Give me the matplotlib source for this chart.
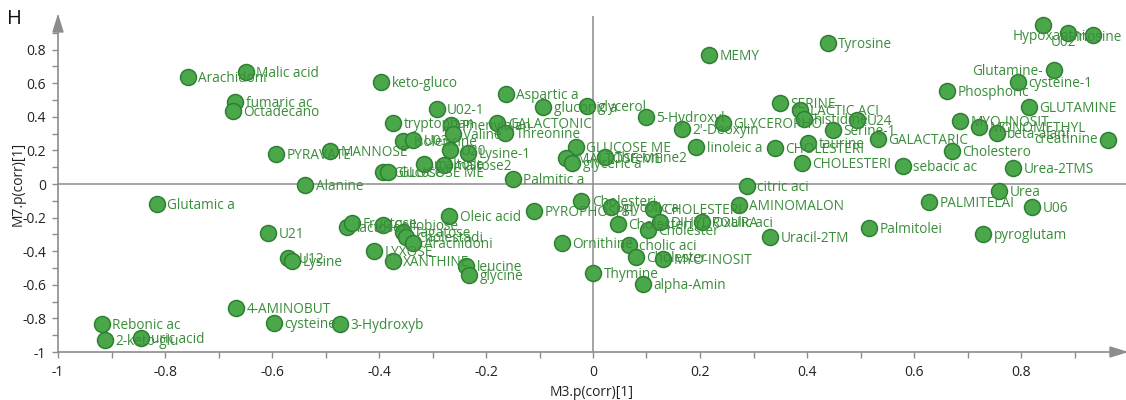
import numpy as np
import matplotlib
matplotlib.use("Agg")
import matplotlib.pyplot as plt
from matplotlib.patches import Polygon

plt.rcParams['font.family'] = ['Open Sans', 'DejaVu Sans']

names = ["Arachidoni", "Malic acid", "fumaric ac", "Octadecano", "PYRAVATE", "MANNOSE",
         "keto-gluco", "U02-1", "tryptophan", "Phenylalan", "Valine", "Isoleucine", "U03",
         "U20", "Lysine-1", "maltose", "maltose2", "Glucose", "GLUCOSE ME", "Palmitic a",
         "GALACTONIC", "Threonine", "Aspartic a", "gluconic a", "glycerol", "GLUCOSE ME",
         "MALTOSE ME", "glyceric a", "Threonine2", "MEMY", "Tyrosine", "5-Hydroxyl",
         "2'-Deoxyin", "GLYCEROPHO", "linoleic a", "CHOLESTERI", "CHOLESTERI", "SERINE",
         "LACTIC ACI", "histidine", "U24", "Serine-1", "taurine", "GALACTARIC", "sebacic ac",
         "Phosphoric", "MYO-INOSIT", "MONOMETHYL", "beta-alani", "Cholestero", "Urea-2TMS",
         "Hypoxanthi", "U02", "Inosine", "Glutamine-", "cysteine-1", "GLUTAMINE", "creatinine",
         "Urea", "PALMITELAI", "U06", "Palmitolei", "pyroglutam", "citric aci", "AMINOMALON",
         "Uracil-2TM", "Cholesteri", "glycolic a", "CHOLESTERI", "Cholesteri", "Cholester",
         "DIHYDROURA", "Oxalic aci", "Ornithine", "cholic aci", "Cholester", "MYO-INOSIT",
         "Thymine", "alpha-Amin", "Alanine", "Oleic acid", "PYROPHOSPH", "lactose", "Fructose",
         "Cellobiose", "Tagatose", "Cholestadi", "Arachidoni", "LYXOSE", "XANTHINE", "leucine",
         "glycine", "3-Hydroxyb", "U21", "U12", "Lysine", "4-AMINOBUT", "cysteine",
         "Rebonic ac", "2-keto-glu", "uric acid", "Glutamic a"]

m3_corr = [-0.757, -0.649, -0.669, -0.673, -0.593, -0.492,
           -0.396, -0.292, -0.374, -0.265, -0.262, -0.355, -0.336,
           -0.267, -0.234, -0.316, -0.279, -0.393, -0.383, -0.150,
           -0.179, -0.164, -0.163, -0.093, -0.011, -0.032,
           -0.050, -0.039, 0.022, 0.217, 0.439, 0.099,
           0.166, 0.243, 0.193, 0.340, 0.391, 0.350,
           0.387, 0.394, 0.493, 0.449, 0.402, 0.533, 0.579,
           0.662, 0.686, 0.721, 0.755, 0.671, 0.785,
           0.841, 0.888, 0.935, 0.862, 0.794, 0.815, 0.963,
           0.759, 0.628, 0.821, 0.516, 0.729, 0.288, 0.273,
           0.331, -0.022, 0.034, 0.112, 0.047, 0.103,
           0.125, 0.204, -0.058, 0.067, 0.080, 0.131,
           0.000, 0.093, -0.538, -0.269, -0.110, -0.460, -0.450,
           -0.393, -0.355, -0.350, -0.336, -0.409, -0.374, -0.237,
           -0.232, -0.473, -0.607, -0.570, -0.563, -0.667, -0.596,
           -0.918, -0.912, -0.845, -0.815]

m7_corr = [0.637, 0.667, 0.488, 0.435, 0.179, 0.197,
           0.607, 0.446, 0.363, 0.351, 0.298, 0.256, 0.262,
           0.202, 0.185, 0.119, 0.113, 0.071, 0.071, 0.030,
           0.363, 0.304, 0.536, 0.458, 0.464, 0.220,
           0.155, 0.125, 0.161, 0.768, 0.839, 0.399,
           0.327, 0.363, 0.220, 0.214, 0.125, 0.482,
           0.440, 0.387, 0.381, 0.321, 0.244, 0.268, 0.107,
           0.554, 0.375, 0.339, 0.304, 0.196, 0.095,
           0.946, 0.899, 0.887, 0.679, 0.607, 0.458, 0.262,
           -0.042, -0.107, -0.137, -0.262, -0.298, -0.012, -0.125,
           -0.315, -0.101, -0.137, -0.149, -0.238, -0.274,
           -0.226, -0.226, -0.351, -0.363, -0.435, -0.446,
           -0.530, -0.595, -0.006, -0.190, -0.161, -0.256, -0.232,
           -0.244, -0.286, -0.315, -0.351, -0.399, -0.458, -0.488,
           -0.542, -0.833, -0.292, -0.440, -0.458, -0.738, -0.827,
           -0.833, -0.929, -0.917, -0.119]

x_ticks = [-1, -0.8, -0.6, -0.4, -0.2, 0, 0.2, 0.4, 0.6, 0.8]
y_ticks = [-1, -0.8, -0.6, -0.4, -0.2, 0, 0.2, 0.4, 0.6, 0.8]
x_title = "M3.p(corr)[1]"
y_title = "M7.p(corr)[1]"
panel = "H"

# layout: special label placements (offset in points, horizontal alignment)
label_place = {
    "Hypoxanthi": ((-22, -8.5), "left"),
    "U02": ((-3, -7), "center"),
    "Inosine": ((20.5, -1.5), "right"),
    "Glutamine-": ((-8, -1), "right"),
    "creatinine": ((-7.5, 0), "right"),
}

W, H = 1126, 400
fig = plt.figure(figsize=(W / 100, H / 100), dpi=100)
ax = fig.add_axes([58 / W, 48 / H, (W - 58) / W, 336 / H])
ax.set_xlim(-1, (1126 - 593) / 535)
ax.set_ylim(-1, 1.0)

gray = "#8c8c8c"
for s in ["top", "right"]:
    ax.spines[s].set_visible(False)
for s in ["left", "bottom"]:
    ax.spines[s].set_color(gray)
    ax.spines[s].set_linewidth(1.2)

ax.axhline(0, color=gray, lw=1.1, zorder=1)
ax.axvline(0, color=gray, lw=1.1, zorder=1)

ax.set_xticks(x_ticks)
ax.set_xticklabels([f"{round(v, 1) + 0.0:g}" for v in x_ticks])
ax.set_yticks(y_ticks)
ax.set_yticklabels([f"{round(v, 1) + 0.0:g}" for v in y_ticks])
ax.set_xticks(np.arange(-1, 0.95, 0.1), minor=True)
ax.set_yticks(np.arange(-1, 0.95, 0.1), minor=True)
ax.tick_params(which="both", direction="out", length=4.5, width=1, color=gray,
               labelsize=10, labelcolor="#222222")
ax.tick_params(axis="x", which="major", pad=5)
ax.tick_params(axis="y", which="major", pad=4)

# arrow heads
tr = ax.transAxes
aw, ah = (W - 58), 336
ax.add_patch(Polygon([[1.0, 0], [1 - 16 / aw, 5 / ah], [1 - 16 / aw, -5 / ah]], closed=True,
                     transform=tr, color=gray, clip_on=False, zorder=3))
ax.add_patch(Polygon([[0, 1.0], [5 / aw, 1 - 16 / ah], [-5 / aw, 1 - 16 / ah]], closed=True,
                     transform=tr, color=gray, clip_on=False, zorder=3))

ax.scatter(m3_corr, m7_corr, s=132, facecolor="#4aa84a", edgecolor="#2f7f33",
           linewidth=1.1, zorder=4, clip_on=False)

txt_color = "#3a8c3a"
for n, xv, yv in zip(names, m3_corr, m7_corr):
    off, ha = label_place.get(n, ((7.5, -1), "left"))
    ax.annotate(n, (xv, yv), xytext=off, textcoords="offset points", ha=ha, va="center",
                fontsize=9.8, color=txt_color, zorder=5, annotation_clip=False)

fig.text(592 / W, 1 - 392 / H, x_title, ha="center", va="center", fontsize=10, color="#222222")
fig.text(18 / W, 1 - 184 / H, y_title, ha="center", va="center", rotation=90, fontsize=10,
         color="#222222")
fig.text(7 / W, 1 - 19 / H, panel, ha="left", va="center", fontsize=14.5, color="#111111")

fig.savefig("out.png", dpi=100)
